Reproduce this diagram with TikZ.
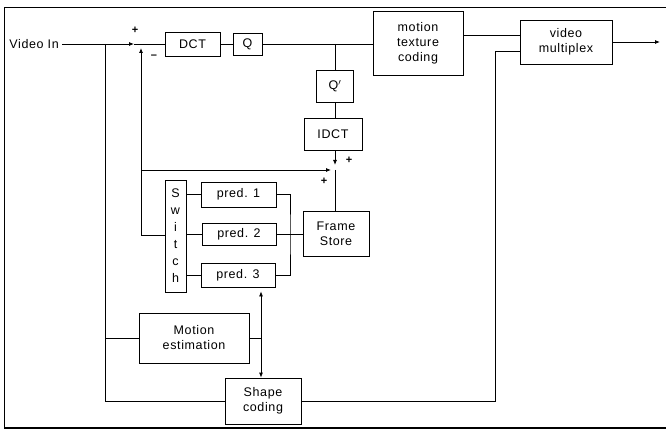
\documentclass[tikz,border=0pt]{standalone}
\usepackage{fontspec}
\setmainfont[LetterSpace=5]{Liberation Sans}
\usetikzlibrary{arrows.meta}
\begin{document}
\begin{tikzpicture}[
  x=1pt, y=-1pt,
  line width=0.8pt,
  blk/.style={draw, inner sep=0pt, align=center, font=\fontsize{12.5}{15}\selectfont},
  sign/.style={font=\fontsize{11}{11}\selectfont\bfseries, inner sep=0pt},
  arr/.style={-{Latex[length=5pt,width=4pt]}},
  darr/.style={{Latex[length=5pt,width=4pt]}-{Latex[length=5pt,width=4pt]}}
]
\useasboundingbox (0,0) rectangle (666,430);
\draw (666,7) -- (4,7) -- (4,428);
\draw[line width=1.6pt] (4,428) -- (666,428);

\node[blk, draw=none, anchor=west, inner xsep=3pt] (vin) at (6,44) {Video In};
\node[blk, minimum width=55, minimum height=24] (dct)  at (192.5,44) {DCT};
\node[blk, minimum width=29, minimum height=22] (q)    at (247.5,44) {Q};
\node[blk, minimum width=90, minimum height=64] (mtc)  at (418,43)   {motion\\texture\\coding};
\node[blk, minimum width=92, minimum height=44] (vmux) at (566,42)   {video\\multiplex};
\node[blk, minimum width=37, minimum height=32] (qi)   at (335,86)   {Q$'$};
\node[blk, minimum width=58, minimum height=32] (idct) at (333,134)  {IDCT};
\node[blk, minimum width=66, minimum height=45] (fs)   at (336,234)  {Frame\\Store};
\node[blk, minimum width=21, minimum height=112, font=\fontsize{12.5}{17}\selectfont] (sw) at (175.5,236) {S\\w\\i\\t\\c\\h};
\node[blk, minimum width=75, minimum height=25] (p1)   at (238.5,194.5) {pred. 1};
\node[blk, minimum width=74, minimum height=22] (p2)   at (239,234)  {pred. 2};
\node[blk, minimum width=74, minimum height=24] (p3)   at (238,275)  {pred. 3};
\node[blk, minimum width=110, minimum height=50] (me)  at (194,338)  {Motion\\estimation};
\node[blk, minimum width=76, minimum height=46] (sc)   at (263,401)  {Shape\\coding};

\coordinate (j1)  at (105,44);
\coordinate (s1)  at (134,44);
\coordinate (s1b) at (141,48);
\coordinate (fb)  at (141,235);
\coordinate (fb2) at (141,170);
\coordinate (tap) at (335,44);
\coordinate (s2t) at (335,165);
\coordinate (s2l) at (331,170);
\coordinate (s2)  at (335,170);
\coordinate (bus) at (290,234);
\coordinate (mv)  at (261,338);
\coordinate (vm2) at (495,51);
\coordinate (out) at (660,42);

\node[sign] (pa) at (135,30)  {+};
\node[sign] (ma) at (154,57)  {--};
\node[sign] (pb) at (349,160) {+};
\node[sign] (pc) at (324,181) {+};

\draw[arr] (vin) -- (s1);
\draw (s1) -- (dct);
\draw (dct) -- (q);
\draw (q.east) -- (q.east -| mtc.west);
\draw (tap) -- (qi);
\draw (qi) -- (qi.south |- idct.north);
\draw[arr] (idct.south -| s2t) -- (s2t);
\draw (s2) -- (fs.north -| s2);
\draw[arr] (fb2) -- (s2l);
\draw[arr] (fb) -- (s1b);
\draw (fb) -- (sw.west |- fb);
\draw (j1) -- (j1 |- sc.west) -- (sc.west);
\draw (me.west) -- (me.west -| j1);
\draw (sw.east |- p1.west) -- (p1.west);
\draw (sw.east |- p2.west) -- (p2.west);
\draw (sw.east |- p3.west) -- (p3.west);
\draw (p1.east) -| (bus) |- (p3.east);
\draw (p2.east) -- (fs.west);
\draw (me.east) -- (mv);
\draw[darr] ([yshift=-4pt]p3.south -| mv) -- (sc.north -| mv);
\draw ([yshift=8pt]mtc.east) -- ([yshift=8pt]mtc.east -| vmux.west);
\draw (sc.east) -| (vm2) -- (vm2 -| vmux.west);
\draw[arr] (vmux.east) -- (out);
\end{tikzpicture}
\end{document}
